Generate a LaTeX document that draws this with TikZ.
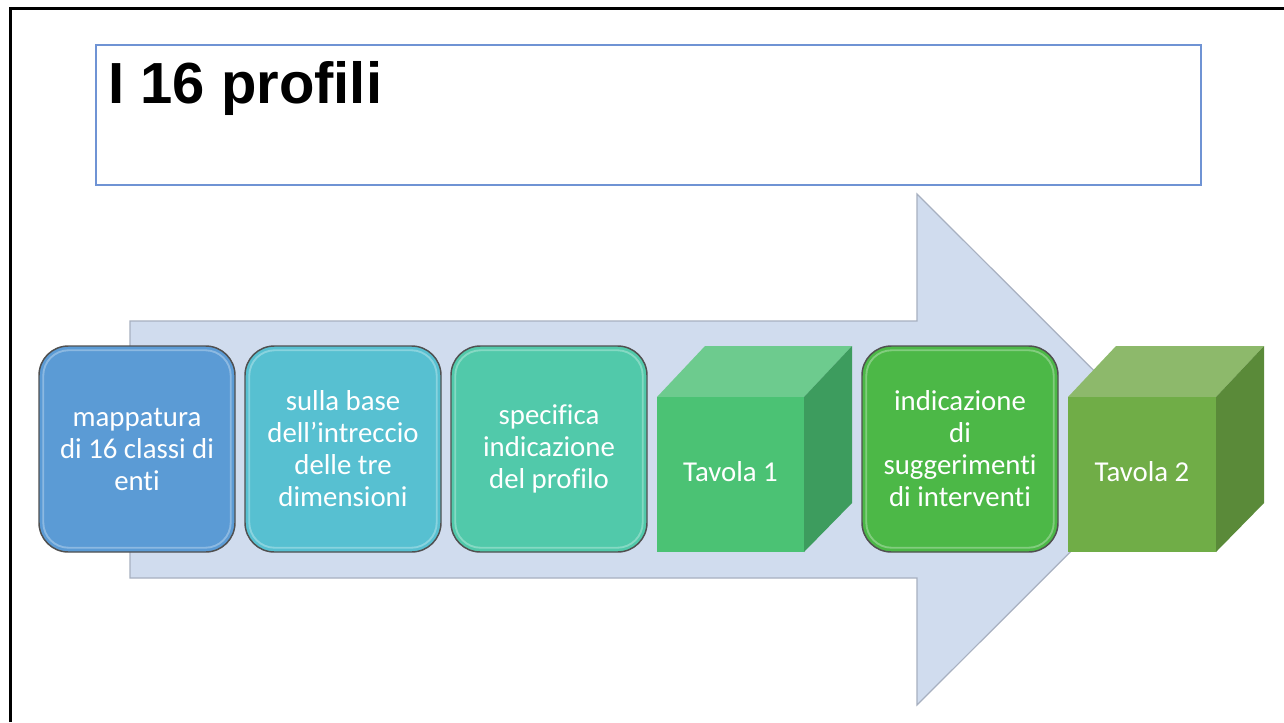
\documentclass[tikz,border=0pt]{standalone}
\usepackage{fontspec}
\setmainfont{Carlito}[Ligatures={NoCommon}]
\newfontfamily\titlefont{Liberation Sans}[Ligatures={NoCommon}]
\definecolor{arrowfill}{HTML}{D0DCEE}
\definecolor{arrowline}{HTML}{A7B0C0}
\definecolor{titleblue}{HTML}{6F93D4}
\definecolor{cboxA}{HTML}{5B9BD5}
\definecolor{cboxB}{HTML}{57C0D1}
\definecolor{cboxC}{HTML}{51C9AA}
\definecolor{cboxD}{HTML}{4CB847}
\definecolor{cubeAtop}{HTML}{6DCB8E}
\definecolor{cubeAfront}{HTML}{4BC274}
\definecolor{cubeAside}{HTML}{3D9C5E}
\definecolor{cubeBtop}{HTML}{8DB96B}
\definecolor{cubeBfront}{HTML}{70AD47}
\definecolor{cubeBside}{HTML}{5A8A39}
\definecolor{boxedge}{HTML}{505050}
\begin{document}
\begin{tikzpicture}[x=0.75pt,y=-0.75pt,
  stepbox/.style={draw=boxedge, line width=1.1pt, rounded corners=22pt,
    minimum width=147pt, minimum height=154.5pt,
    align=center, text=white, inner sep=0pt,
    font=\fontsize{21.6}{24}\selectfont},
  glow/.style={draw=white, opacity=0.3, line width=1.4pt, rounded corners=19pt},
  cubetext/.style={text=white, font=\fontsize{21.6}{24}\selectfont, inner sep=0pt},
  arrowshape/.style={fill=arrowfill, draw=arrowline, line width=0.9pt}]
\useasboundingbox (0,0) rectangle (1284,722);
\fill[white] (0,0) rectangle (1284,722);
% outer frame
\draw[line width=2.3pt] (10.5,722) -- (10.5,8.5) -- (1284,8.5);
% title
\node[draw=titleblue, line width=1pt, minimum width=828.75pt, minimum height=105pt, inner sep=0pt] (titlebox) at (648.5,115) {};
\node[anchor=base west, inner sep=0pt, font=\titlefont\bfseries\fontsize{43.5}{52}\selectfont] (title) at (108,103) {I 16 profili};
% big arrow
\coordinate (a1) at (130,321);
\coordinate (a2) at (917,321);
\coordinate (a3) at (917,194);
\coordinate (tip) at (1173,449.5);
\coordinate (a5) at (917,705);
\coordinate (a6) at (917,578);
\coordinate (a7) at (130,578);
\draw[arrowshape] (a1) -- (a2) -- (a3) -- (tip) -- (a5) -- (a6) -- (a7) -- cycle;
% rounded steps
\node[stepbox, fill=cboxA] (s1) at (137,449) {mappatura\\di 16 classi di\\enti};
\node[stepbox, fill=cboxB] (s2) at (343,449) {sulla base\\dell’intreccio\\delle tre\\dimensioni};
\node[stepbox, fill=cboxC] (s3) at (549,449) {specifica\\indicazione\\del profilo};
\node[stepbox, fill=cboxD] (s4) at (960,449) {indicazione\\di\\suggerimenti\\di interventi};
\foreach \s in {s1,s2,s3,s4}{
  \draw[glow] ([shift={(5,5)}]\s.north west) rectangle ([shift={(-5,-5)}]\s.south east);
}
% cube 1
\fill[cubeAtop] (657,397) -- (705,346) -- (852,346) -- (804,397) -- cycle;
\fill[cubeAside] (804,397) -- (852,346) -- (852,503) -- (804,552) -- cycle;
\fill[cubeAfront] (657,397) rectangle (804,552);
\node[cubetext] (t1) at (730.5,472) {Tavola 1};
% cube 2
\fill[cubeBtop] (1068,397) -- (1116,346) -- (1264,346) -- (1216,397) -- cycle;
\fill[cubeBside] (1216,397) -- (1264,346) -- (1264,503) -- (1216,552) -- cycle;
\fill[cubeBfront] (1068,397) rectangle (1216,552);
\node[cubetext] (t2) at (1142,472) {Tavola 2};
\end{tikzpicture}
\end{document}
